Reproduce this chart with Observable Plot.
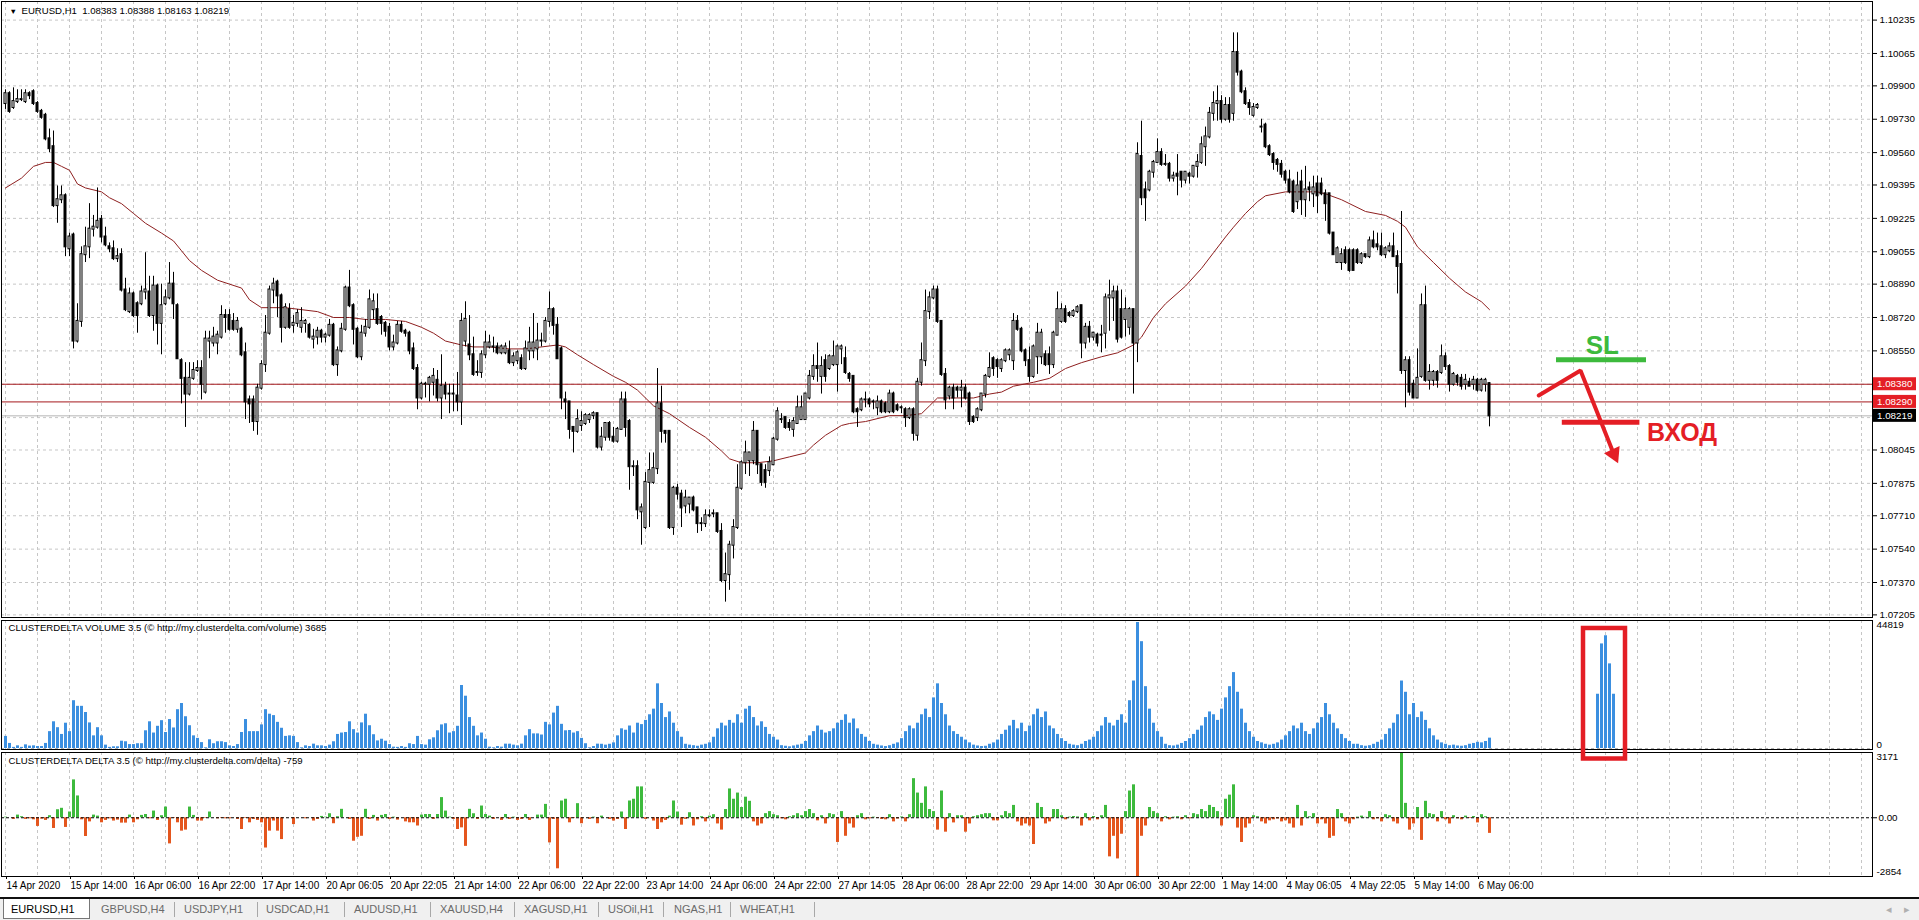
<!DOCTYPE html>
<html><head><meta charset="utf-8">
<script src="https://cdn.jsdelivr.net/npm/d3@7"></script>
<script src="https://cdn.jsdelivr.net/npm/@observablehq/plot@0.6"></script>
<style>
html,body{margin:0;padding:0;background:#fff;}
#wrap{position:relative;width:1919px;height:920px;overflow:hidden;background:#fff;font-family:"Liberation Sans",Arial,sans-serif;}
.panel{position:absolute;left:0;}
.panel svg{overflow:visible;}
#tabs{position:absolute;left:0;top:897px;width:1919px;height:23px;background:#f0f0f0;border-top:2px solid #111;box-sizing:border-box;font:11px "Liberation Sans",Arial,sans-serif;color:#6a6a6a;}
#tabs .t{position:absolute;top:4px;white-space:nowrap;}
#tabs .s{position:absolute;top:3px;width:1px;height:15px;background:#a8a8a8;}
</style></head>
<body><div id="wrap">
<div class="panel" id="price" style="top:0"></div>
<div class="panel" id="delta" style="top:750px"></div>
<div class="panel" id="vol" style="top:619px"></div>
<div id="tabs"></div>
</div>
<script>
// ---------------- DATA ----------------
const symbol = "EURUSD,H1";
const opens = [
1.0981,1.0986,1.0979,1.0982,1.0983,1.0982,1.0986,1.0987,1.0981,1.0977,
1.0975,1.0963,1.0959,1.0929,1.0932,1.0934,1.0907,1.0914,1.0860,1.0870,
1.0904,1.0908,1.0917,1.0918,1.0922,1.0913,1.0908,1.0907,1.0902,1.0904,
1.0886,1.0875,1.0884,1.0879,1.0879,1.0885,1.0885,1.0873,1.0888,1.0869,
1.0879,1.0882,1.0889,1.0878,1.0850,1.0841,1.0833,1.0841,1.0845,1.0846,
1.0834,1.0860,1.0859,1.0859,1.0862,1.0873,1.0873,1.0870,1.0866,1.0866,
1.0854,1.0830,1.0830,1.0819,1.0836,1.0848,1.0864,1.0886,1.0890,1.0883,
1.0867,1.0876,1.0868,1.0869,1.0867,1.0869,1.0868,1.0861,1.0862,1.0865,
1.0862,1.0863,1.0868,1.0848,1.0855,1.0866,1.0887,1.0878,1.0866,1.0852,
1.0864,1.0867,1.0876,1.0876,1.0872,1.0869,1.0867,1.0857,1.0859,1.0868,
1.0865,1.0864,1.0856,1.0846,1.0831,1.0838,1.0838,1.0839,1.0840,1.0831,
1.0837,1.0833,1.0833,1.0832,1.0829,1.0860,1.0858,1.0853,1.0844,1.0844,
1.0853,1.0857,1.0857,1.0857,1.0854,1.0854,1.0855,1.0849,1.0850,1.0851,
1.0846,1.0855,1.0855,1.0856,1.0860,1.0860,1.0870,1.0876,1.0868,1.0856,
1.0830,1.0829,1.0816,1.0814,1.0817,1.0818,1.0820,1.0822,1.0823,1.0806,
1.0811,1.0818,1.0811,1.0809,1.0815,1.0830,1.0819,1.0796,1.0796,1.0773,
1.0765,1.0788,1.0788,1.0795,1.0828,1.0814,1.0814,1.0765,1.0785,1.0782,
1.0776,1.0777,1.0780,1.0775,1.0767,1.0767,1.0771,1.0772,1.0772,1.0763,
1.0738,1.0741,1.0756,1.0765,1.0785,1.0798,1.0799,1.0799,1.0814,1.0797,
1.0794,1.0794,1.0797,1.0810,1.0820,1.0821,1.0818,1.0815,1.0818,1.0820,
1.0820,1.0831,1.0842,1.0847,1.0842,1.0850,1.0846,1.0848,1.0848,1.0856,
1.0851,1.0843,1.0842,1.0825,1.0825,1.0830,1.0830,1.0829,1.0826,1.0829,
1.0828,1.0824,1.0833,1.0827,1.0826,1.0825,1.0821,1.0825,1.0812,1.0839,
1.0850,1.0875,1.0882,1.0886,1.0870,1.0843,1.0832,1.0836,1.0836,1.0835,
1.0836,1.0833,1.0821,1.0821,1.0825,1.0833,1.0842,1.0851,1.0850,1.0846,
1.0850,1.0853,1.0850,1.0870,1.0866,1.0855,1.0850,1.0842,1.0852,1.0852,
1.0853,1.0853,1.0848,1.0863,1.0870,1.0876,1.0874,1.0873,1.0875,1.0878,
1.0859,1.0867,1.0862,1.0863,1.0863,1.0864,1.0882,1.0882,1.0885,1.0876,
1.0871,1.0867,1.0876,1.0859,1.0954,1.0937,1.0937,1.0946,1.0951,1.0956,
1.0950,1.0950,1.0943,1.0945,1.0946,1.0942,1.0945,1.0944,1.0949,1.0951,
1.0959,1.0964,1.0976,1.0981,1.0982,1.0973,1.0980,1.0976,1.1007,1.0997,
1.0987,1.0981,1.0975,1.0979,1.0969,1.0970,1.0959,1.0955,1.0952,1.0950,
1.0946,1.0942,1.0941,1.0931,1.0941,1.0932,1.0938,1.0935,1.0940,1.0940,
1.0935,1.0935,1.0915,1.0900,1.0900,1.0906,1.0906,1.0906,1.0906,1.0900,
1.0904,1.0903,1.0911,1.0909,1.0908,1.0904,1.0906,1.0908,1.0903,1.0899,
1.0845,1.0850,1.0838,1.0831,1.0842,1.0878,1.0840,1.0840,1.0844,1.0844,
1.0852,1.0847,1.0838,1.0842,1.0841,1.0838,1.0839,1.0838,1.0840,1.0835,
1.0838,1.08383];
const highs = [
1.0988,1.0987,1.0989,1.0988,1.0988,1.0988,1.0987,1.0988,1.0982,1.0978,
1.0976,1.0968,1.0967,1.0939,1.0939,1.0935,1.0915,1.0915,1.0879,1.0908,
1.0918,1.0930,1.0924,1.0938,1.0924,1.0918,1.0910,1.0911,1.0907,1.0907,
1.0892,1.0887,1.0885,1.0880,1.0888,1.0905,1.0893,1.0893,1.0889,1.0889,
1.0886,1.0900,1.0895,1.0879,1.0851,1.0849,1.0849,1.0849,1.0850,1.0850,
1.0865,1.0865,1.0867,1.0865,1.0878,1.0876,1.0876,1.0874,1.0872,1.0867,
1.0859,1.0832,1.0832,1.0838,1.0850,1.0873,1.0888,1.0892,1.0891,1.0884,
1.0879,1.0879,1.0873,1.0876,1.0877,1.0871,1.0869,1.0866,1.0867,1.0866,
1.0864,1.0871,1.0869,1.0857,1.0869,1.0888,1.0896,1.0879,1.0867,1.0868,
1.0871,1.0886,1.0884,1.0884,1.0873,1.0870,1.0869,1.0863,1.0870,1.0870,
1.0866,1.0865,1.0859,1.0848,1.0839,1.0839,1.0842,1.0846,1.0845,1.0853,
1.0839,1.0838,1.0838,1.0844,1.0874,1.0880,1.0873,1.0862,1.0850,1.0855,
1.0865,1.0863,1.0862,1.0859,1.0858,1.0859,1.0860,1.0854,1.0855,1.0853,
1.0860,1.0867,1.0874,1.0869,1.0864,1.0872,1.0885,1.0877,1.0872,1.0857,
1.0834,1.0829,1.0816,1.0825,1.0824,1.0823,1.0823,1.0824,1.0823,1.0816,
1.0818,1.0819,1.0816,1.0816,1.0834,1.0834,1.0820,1.0799,1.0799,1.0777,
1.0793,1.0803,1.0803,1.0846,1.0837,1.0814,1.0814,1.0786,1.0787,1.0784,
1.0784,1.0780,1.0781,1.0775,1.0770,1.0774,1.0774,1.0774,1.0772,1.0767,
1.0752,1.0758,1.0769,1.0797,1.0799,1.0809,1.0803,1.0819,1.0814,1.0797,
1.0797,1.0801,1.0811,1.0826,1.0823,1.0821,1.0820,1.0821,1.0832,1.0832,
1.0833,1.0845,1.0853,1.0859,1.0852,1.0853,1.0853,1.0860,1.0858,1.0858,
1.0857,1.0844,1.0842,1.0826,1.0831,1.0834,1.0831,1.0830,1.0832,1.0830,
1.0829,1.0835,1.0834,1.0828,1.0827,1.0826,1.0826,1.0826,1.0841,1.0859,
1.0886,1.0885,1.0888,1.0888,1.0870,1.0846,1.0837,1.0838,1.0837,1.0840,
1.0838,1.0834,1.0822,1.0826,1.0833,1.0843,1.0854,1.0852,1.0851,1.0851,
1.0856,1.0856,1.0874,1.0873,1.0867,1.0856,1.0857,1.0858,1.0869,1.0866,
1.0855,1.0857,1.0865,1.0885,1.0879,1.0878,1.0875,1.0876,1.0878,1.0878,
1.0869,1.0870,1.0864,1.0864,1.0868,1.0884,1.0891,1.0888,1.0888,1.0886,
1.0882,1.0877,1.0876,1.0961,1.0972,1.0941,1.0947,1.0952,1.0963,1.0958,
1.0955,1.0951,1.0946,1.0955,1.0946,1.0946,1.0946,1.0949,1.0955,1.0964,
1.0969,1.0979,1.0987,1.0990,1.0985,1.0984,1.0984,1.1017,1.1017,1.0998,
1.0989,1.0983,1.0981,1.0981,1.0973,1.0971,1.0960,1.0956,1.0953,1.0952,
1.0947,1.0947,1.0942,1.0946,1.0947,1.0949,1.0941,1.0944,1.0944,1.0943,
1.0937,1.0935,1.0915,1.0908,1.0907,1.0908,1.0907,1.0907,1.0907,1.0905,
1.0904,1.0913,1.0916,1.0915,1.0915,1.0908,1.0910,1.0915,1.0906,1.0926,
1.0852,1.0852,1.0840,1.0856,1.0884,1.0888,1.0848,1.0845,1.0845,1.0858,
1.0854,1.0848,1.0844,1.0843,1.0843,1.0843,1.0841,1.0842,1.0841,1.0841,
1.0841,1.08388];
const lows = [
1.0978,1.0976,1.0978,1.0981,1.0982,1.0981,1.0983,1.0980,1.0976,1.0973,
1.0962,1.0956,1.0928,1.0920,1.0930,1.0903,1.0903,1.0856,1.0859,1.0867,
1.0900,1.0902,1.0913,1.0917,1.0910,1.0908,1.0905,1.0901,1.0900,1.0885,
1.0875,1.0874,1.0872,1.0864,1.0878,1.0881,1.0872,1.0865,1.0858,1.0853,
1.0878,1.0881,1.0871,1.0851,1.0828,1.0816,1.0832,1.0840,1.0844,1.0830,
1.0833,1.0851,1.0857,1.0853,1.0861,1.0864,1.0865,1.0865,1.0864,1.0852,
1.0820,1.0818,1.0814,1.0812,1.0835,1.0844,1.0863,1.0879,1.0872,1.0859,
1.0866,1.0866,1.0864,1.0867,1.0864,1.0864,1.0861,1.0856,1.0858,1.0859,
1.0859,1.0862,1.0847,1.0842,1.0854,1.0865,1.0877,1.0858,1.0851,1.0850,
1.0862,1.0866,1.0871,1.0868,1.0863,1.0862,1.0855,1.0855,1.0858,1.0864,
1.0862,1.0853,1.0845,1.0825,1.0830,1.0831,1.0829,1.0832,1.0829,1.0820,
1.0830,1.0823,1.0824,1.0824,1.0817,1.0857,1.0850,1.0842,1.0842,1.0841,
1.0851,1.0856,1.0854,1.0853,1.0853,1.0853,1.0848,1.0847,1.0848,1.0845,
1.0845,1.0850,1.0851,1.0850,1.0857,1.0859,1.0867,1.0863,1.0851,1.0825,
1.0820,1.0810,1.0803,1.0813,1.0814,1.0817,1.0818,1.0820,1.0805,1.0804,
1.0809,1.0809,1.0808,1.0808,1.0815,1.0811,1.0784,1.0791,1.0769,1.0756,
1.0764,1.0765,1.0787,1.0792,1.0808,1.0808,1.0764,1.0761,1.0779,1.0765,
1.0772,1.0772,1.0773,1.0762,1.0763,1.0765,1.0770,1.0770,1.0762,1.0737,
1.0727,1.0733,1.0749,1.0764,1.0784,1.0792,1.0791,1.0797,1.0792,1.0786,
1.0785,1.0791,1.0797,1.0809,1.0818,1.0815,1.0814,1.0811,1.0818,1.0820,
1.0820,1.0830,1.0840,1.0839,1.0833,1.0839,1.0845,1.0847,1.0834,1.0848,
1.0843,1.0839,1.0823,1.0816,1.0824,1.0826,1.0826,1.0825,1.0822,1.0823,
1.0823,1.0823,1.0823,1.0824,1.0823,1.0816,1.0820,1.0809,1.0809,1.0837,
1.0847,1.0871,1.0881,1.0869,1.0842,1.0825,1.0830,1.0825,1.0831,1.0826,
1.0830,1.0817,1.0818,1.0819,1.0824,1.0831,1.0841,1.0842,1.0841,1.0844,
1.0849,1.0850,1.0845,1.0865,1.0854,1.0847,1.0839,1.0841,1.0843,1.0848,
1.0847,1.0843,1.0846,1.0863,1.0869,1.0869,1.0872,1.0872,1.0874,1.0851,
1.0856,1.0859,1.0860,1.0857,1.0854,1.0856,1.0865,1.0870,1.0859,1.0861,
1.0862,1.0863,1.0833,1.0849,1.0929,1.0921,1.0936,1.0943,1.0951,1.0949,
1.0949,1.0941,1.0941,1.0934,1.0938,1.0940,1.0940,1.0943,1.0943,1.0950,
1.0949,1.0963,1.0972,1.0972,1.0971,1.0972,1.0971,1.0972,1.0995,1.0986,
1.0980,1.0975,1.0974,1.0978,1.0966,1.0958,1.0954,1.0947,1.0946,1.0943,
1.0940,1.0935,1.0925,1.0927,1.0924,1.0923,1.0931,1.0928,1.0925,1.0934,
1.0921,1.0914,1.0904,1.0900,1.0896,1.0899,1.0895,1.0896,1.0899,1.0899,
1.0902,1.0902,1.0907,1.0906,1.0903,1.0902,1.0905,1.0903,1.0884,1.0843,
1.0826,1.0832,1.0831,1.0831,1.0841,1.0839,1.0835,1.0837,1.0836,1.0843,
1.0845,1.0834,1.0837,1.0837,1.0835,1.0835,1.0837,1.0835,1.0834,1.0834,
1.0834,1.08163];
const closes = [
1.0986,1.0977,1.0982,1.0983,1.0983,1.0986,1.0985,1.0981,1.0977,1.0974,
1.0963,1.0958,1.0929,1.0932,1.0934,1.0908,1.0913,1.0860,1.0870,1.0904,
1.0908,1.0917,1.0918,1.0921,1.0913,1.0909,1.0907,1.0902,1.0903,1.0886,
1.0876,1.0884,1.0873,1.0873,1.0885,1.0886,1.0873,1.0888,1.0869,1.0878,
1.0882,1.0889,1.0879,1.0851,1.0841,1.0833,1.0841,1.0845,1.0846,1.0838,
1.0861,1.0861,1.0862,1.0863,1.0873,1.0872,1.0866,1.0866,1.0870,1.0853,
1.0829,1.0828,1.0819,1.0836,1.0848,1.0864,1.0886,1.0889,1.0883,1.0867,
1.0877,1.0867,1.0869,1.0874,1.0870,1.0870,1.0862,1.0862,1.0865,1.0862,
1.0863,1.0868,1.0848,1.0855,1.0866,1.0887,1.0878,1.0866,1.0852,1.0864,
1.0867,1.0881,1.0880,1.0869,1.0869,1.0865,1.0857,1.0859,1.0868,1.0865,
1.0864,1.0855,1.0846,1.0831,1.0838,1.0838,1.0841,1.0842,1.0831,1.0837,
1.0833,1.0833,1.0833,1.0829,1.0870,1.0871,1.0853,1.0843,1.0844,1.0853,
1.0859,1.0859,1.0857,1.0854,1.0857,1.0857,1.0849,1.0852,1.0854,1.0846,
1.0856,1.0859,1.0859,1.0860,1.0860,1.0870,1.0876,1.0868,1.0851,1.0831,
1.0829,1.0815,1.0814,1.0820,1.0819,1.0822,1.0822,1.0823,1.0806,1.0811,
1.0818,1.0811,1.0809,1.0815,1.0830,1.0816,1.0796,1.0796,1.0774,1.0775,
1.0788,1.0794,1.0795,1.0828,1.0814,1.0813,1.0765,1.0785,1.0782,1.0775,
1.0780,1.0780,1.0774,1.0767,1.0767,1.0771,1.0771,1.0772,1.0763,1.0738,
1.0741,1.0756,1.0765,1.0785,1.0798,1.0803,1.0803,1.0814,1.0797,1.0788,
1.0788,1.0798,1.0810,1.0824,1.0820,1.0816,1.0816,1.0819,1.0826,1.0826,
1.0833,1.0842,1.0847,1.0846,1.0847,1.0842,1.0852,1.0852,1.0857,1.0857,
1.0844,1.0841,1.0824,1.0824,1.0830,1.0830,1.0828,1.0829,1.0829,1.0824,
1.0824,1.0833,1.0824,1.0825,1.0826,1.0821,1.0825,1.0813,1.0839,1.0850,
1.0875,1.0882,1.0886,1.0870,1.0843,1.0830,1.0836,1.0831,1.0835,1.0836,
1.0831,1.0819,1.0819,1.0825,1.0833,1.0842,1.0846,1.0846,1.0847,1.0850,
1.0855,1.0855,1.0870,1.0866,1.0855,1.0850,1.0842,1.0857,1.0864,1.0864,
1.0848,1.0848,1.0864,1.0876,1.0876,1.0870,1.0873,1.0875,1.0877,1.0859,
1.0867,1.0862,1.0864,1.0859,1.0863,1.0882,1.0883,1.0885,1.0861,1.0862,
1.0876,1.0876,1.0859,1.0955,1.0933,1.0933,1.0946,1.0951,1.0956,1.0950,
1.0950,1.0943,1.0944,1.0944,1.0942,1.0946,1.0944,1.0949,1.0951,1.0960,
1.0964,1.0976,1.0981,1.0982,1.0973,1.0980,1.0973,1.1007,1.0997,1.0987,
1.0981,1.0979,1.0979,1.0980,1.0969,1.0959,1.0955,1.0951,1.0950,1.0945,
1.0942,1.0936,1.0926,1.0939,1.0932,1.0937,1.0937,1.0938,1.0934,1.0935,
1.0930,1.0915,1.0904,1.0907,1.0904,1.0900,1.0896,1.0896,1.0900,1.0904,
1.0903,1.0911,1.0908,1.0908,1.0904,1.0907,1.0908,1.0903,1.0898,1.0845,
1.0850,1.0834,1.0831,1.0841,1.0878,1.0840,1.0844,1.0844,1.0840,1.0852,
1.0847,1.0838,1.0843,1.0839,1.0837,1.0840,1.0837,1.0840,1.0835,1.0840,
1.0840,1.08219];
// moving average (read at sample bars)
const maBars = [0,4,7,10,12,14,16,18,20,24,26,29,32,35,39,42,44,46,49,53,56,59,61,64,66,70,74,78,82,86,90,95,100,104,107,110,114,117,121,126,130,134,138,140,143,147,152,155,158,162,166,171,175,179,181,184,188,192,196,200,202,205,209,211,215,221,225,229,231,233,238,242,246,249,252,257,261,265,269,274,278,282,284,287,290,295,299,302,305,307,310,313,315,320,324,328,330,334,340,345,348,350,353,357,361,365,369,371];
const maValues = [1.0938,1.0943,1.0949,1.0951,1.0951,1.0949,1.0947,1.0940,1.0938,1.0936,1.0933,1.0930,1.0925,1.0920,1.0915,1.0911,1.0906,1.0901,1.0896,1.0891,1.0889,1.0887,1.0881,1.0877,1.0877,1.0877,1.0876,1.0875,1.0872,1.0872,1.0871,1.0871,1.0870,1.0867,1.0864,1.0860,1.0858,1.0857,1.0857,1.0856,1.0856,1.0857,1.0858,1.0857,1.0853,1.0848,1.0842,1.0839,1.0835,1.0827,1.0823,1.0816,1.0811,1.0804,1.0800,1.0798,1.0798,1.0799,1.0801,1.0803,1.0807,1.0812,1.0817,1.0818,1.0819,1.0822,1.0822,1.0823,1.0827,1.0831,1.0831,1.0831,1.0833,1.0834,1.0837,1.0839,1.0841,1.0846,1.0849,1.0852,1.0854,1.0858,1.0862,1.0872,1.0879,1.0888,1.0897,1.0905,1.0913,1.0918,1.0925,1.0931,1.0934,1.0936,1.0936,1.0936,1.0935,1.0932,1.0926,1.0924,1.0921,1.0918,1.0908,1.0900,1.0892,1.0885,1.0880,1.0876];
const volumes = [
4300,1800,400,950,400,1300,850,950,700,700,
1800,6000,9500,7400,5000,9000,6000,17000,15000,15000,
12800,9100,4500,7400,4500,1200,400,600,600,2600,
2400,1400,1400,1700,1700,6300,9500,5500,7900,9900,
5700,10300,7300,13800,16000,11300,8100,4500,3600,2100,
250,3100,1700,2400,2400,2100,950,700,1400,5700,
10300,6000,6000,6000,8400,13800,12200,11700,9300,7200,
4300,4500,4300,2100,250,950,700,1550,950,950,
700,1200,2400,5000,5500,5700,9500,6700,5500,9100,
12200,8100,4900,2700,3300,2600,1400,480,400,700,
400,1700,1400,4300,1400,1200,3100,3800,6300,8400,
8800,5500,6000,7900,22400,18600,11000,7900,4500,5500,
3300,480,250,700,480,1550,1550,1200,950,1550,
4500,6700,5200,5200,4800,9300,8400,12600,15000,8600,
6300,6400,5500,6000,3600,1700,250,700,1550,
1500,1200,1500,2000,4500,7000,6500,8000,5500,9000,8500,10000,12000,14000,23000,16000,11000,13000,9000,6000,4000,
1500,1200,1000,800,1200,1500,2000,4000,7000,9000,8000,10000,9000,12000,9000,14000,15000,11000,8000,9500,7500,5000,4000,3000,
1000,800,600,900,1200,1500,2500,4500,6000,8000,6500,5500,6000,7000,9000,10000,12000,9000,10500,7000,5000,4000,2500,1500,
1200,900,700,1000,1500,2000,3500,6000,8000,7000,9000,12000,14000,11000,18000,23000,16000,12000,8000,6000,5000,4000,3000,2000,
1200,900,700,800,1500,2000,3000,5000,6500,8000,10000,7000,9000,6000,8000,12000,14000,11000,13000,8000,7000,5000,3500,2500,
1500,1200,1000,1500,2500,3000,4000,6000,8000,11000,9000,8000,10000,12000,9000,17000,24000,44819,38000,22000,14000,9000,6000,4000,
1500,1000,900,1200,1800,2500,3500,5000,6500,8000,11000,13000,12000,10000,14000,18000,22000,27000,20000,14000,9000,6000,4000,2500,
2000,1500,1200,1500,2000,3000,4500,6000,8000,7000,9000,6000,5000,7000,9000,11000,16000,12000,9000,7000,5000,3500,2500,1500,
1500,1000,800,1000,1500,2200,3000,5000,7000,9000,12000,24000,20000,12000,16000,11000,13000,10000,7000,4500,3000,2000,1500,1000,
1200,900,800,1000,1500,1800,2200,2000,2500,3685];
const deltas = [
30,0,-80,130,50,-80,-50,-100,-420,-65,
-130,100,-520,390,460,-470,280,1840,1060,-100,
-910,-200,130,80,-245,-130,-50,-160,-115,-260,
-260,130,-245,-100,115,160,-50,325,-130,100,
520,-1270,-30,-245,-650,-600,520,115,-160,-160,
-30,280,0,-50,-30,-50,-50,0,-80,-570,
-30,-245,-80,-130,-245,-1470,-650,-160,-650,-1060,
0,0,-330,0,0,-50,0,-160,-80,65,
30,195,-290,50,410,0,-80,-1140,-950,-900,
410,-80,115,-160,115,160,-80,30,-115,0,
-200,-245,-245,-400,130,160,160,-80,160,980,
325,30,-80,-570,-490,-1390,410,195,-80,570,
160,80,-80,0,-130,160,-80,30,-130,-80,
160,-130,0,130,130,650,-1220,-80,-2480,815,
900,-245,-30,685,-290,0,-80,30,-290,80,
0,-80,-160,-80,280,-570,815,900,1500,1500,
-80,0,-160,-570,-245,-130,80,815,280,-360,-80,245,-400,
-100,50,-200,80,150,-300,-600,400,1400,900,1200,500,1000,800,-200,-400,-300,200,300,150,100,
-50,-100,50,100,200,100,300,400,200,-150,100,-300,200,150,-1200,300,-900,-300,-500,100,200,-100,-50,30,
-30,-80,-100,150,-200,-60,40,-200,150,1900,1200,700,1500,400,300,-600,1300,-700,200,-250,100,100,-700,-300,
50,100,150,200,200,-150,-150,100,300,200,600,-200,-400,-300,-400,-1300,700,500,-300,-200,400,400,100,-100,
30,60,40,-400,200,-150,60,-100,100,600,-1900,-900,-2000,-800,300,1300,1600,-2854,-900,-400,500,300,200,-200,
50,-100,30,50,-100,100,-50,200,150,400,300,600,500,300,-400,900,1100,1600,-500,-1200,-500,-300,100,50,
-200,-300,-150,-100,-60,-200,-150,-300,-500,600,-400,300,50,200,-300,-100,-300,-1000,-900,400,200,-200,-300,-100,
30,80,20,300,-100,-50,-200,150,100,-200,-300,3171,700,-600,-300,500,-1100,800,200,150,-200,300,-100,-300,
100,-50,-100,80,-30,60,-250,150,50,-759];
const priceTicks = [1.10235,1.10065,1.09900,1.09730,1.09560,1.09395,1.09225,1.09055,1.08890,1.08720,1.08550,1.08045,1.07875,1.07710,1.07540,1.07370,1.07205];
const hiddenGridLevels = [1.08380,1.08210];
const levelLines = [1.08380,1.08290];
const timeBars = [0,16,32,48,64,80,96,112,128,144,160,176,192,208,224,240,256,272,288,304,320,336,352,368];
const timeLabels = ["14 Apr 2020","15 Apr 14:00","16 Apr 06:00","16 Apr 22:00","17 Apr 14:00","20 Apr 06:05","20 Apr 22:05","21 Apr 14:00","22 Apr 06:00","22 Apr 22:00","23 Apr 14:00","24 Apr 06:00","24 Apr 22:00","27 Apr 14:05","28 Apr 06:00","28 Apr 22:00","29 Apr 14:00","30 Apr 06:00","30 Apr 22:00","1 May 14:00","4 May 06:05","4 May 22:05","5 May 14:00","6 May 06:00"];
// hand-drawn annotations (chart units: bar index, price / volume)
const slLine = [{x1:387.75, x2:410.25, y:1.08505}];
const slLabel = [{x:399.2, y:1.08579, text:"SL"}];
const entryLine = [{x1:389.2, x2:408.6, y:1.08187}];
const entryLabel = [{x:410.4, y:1.08134, text:"ВХОД"}];
const arrowPath = [{x:383.3, y:1.08323},{x:393.75, y:1.08450},{x:401.7, y:1.08044}];
const arrowTip = [{x:402.1, y:1.08024}];
const boxBars = [398,399,400,401,402];
const boxVolumes = [19300,37200,40100,30100,19300];
const boxRect = [{x1:394.5, x2:405, y1:-3735, y2:42690}];
const tabNames = ["EURUSD,H1","GBPUSD,H4","USDJPY,H1","USDCAD,H1","AUDUSD,H1","XAUUSD,H4","XAGUSD,H1","USOil,H1","NGAS,H1","WHEAT,H1"];

// ---------------- CHARTS ----------------
const FONT = '"Liberation Sans", Arial, sans-serif';
const GRID = "#c6c6c6";
const RED = "#e41e25";
const GREEN = "#3dba3d";
const BLUE = "#3b8fe0";
const xDom = [-1, 466.75];
const gridBars = d3.range(0, 465, 8);
const n = opens.length;
const candles = opens.map((o, i) => ({i, o, h: highs[i], l: lows[i], c: closes[i]}));
const maData = maBars.map((b, k) => ({b, v: maValues[k]}));
const fmt5 = d => d.toFixed(5);
const priceTitle = `${symbol}  ${fmt5(opens[n-1])} ${fmt5(highs[n-1])} ${fmt5(lows[n-1])} ${fmt5(closes[n-1])}`;

const price = Plot.plot({
  width: 1919, height: 619,
  marginLeft: 1, marginRight: 47, marginTop: 1, marginBottom: 2,
  x: {type: "linear", domain: xDom, axis: null},
  y: {type: "linear", domain: [1.071917, 1.103298], axis: null},
  style: {background: "transparent", fontFamily: FONT, fontSize: "9.5px", color: "#000", overflow: "visible"},
  marks: [
    Plot.gridX(gridBars, {stroke: GRID, strokeOpacity: 1, strokeDasharray: "3,3"}),
    Plot.gridY(priceTicks.concat(hiddenGridLevels), {stroke: GRID, strokeOpacity: 1, strokeDasharray: "3,3"}),
    Plot.ruleY([closes[n-1]], {stroke: "#b4b4b4"}),
    Plot.ruleY(levelLines, {stroke: "#a5181c"}),
    Plot.line(maData, {x: "b", y: "v", stroke: "#8e1f1f", strokeWidth: 1}),
    Plot.ruleX(candles, {x: "i", y1: "l", y2: "h", stroke: "#000"}),
    Plot.rect(candles, {x1: d => d.i - 0.25, x2: d => d.i + 0.25, y1: "o", y2: "c",
      fill: d => d.c >= d.o ? "#fff" : "#000", stroke: "#000", strokeWidth: 1, insetTop: -0.5, insetBottom: -0.5}),
    Plot.ruleY(slLine, {x1: "x1", x2: "x2", y: "y", stroke: GREEN, strokeWidth: 5}),
    Plot.text(slLabel, {x: "x", y: "y", text: "text", fill: GREEN, fontSize: 26, fontWeight: "bold"}),
    Plot.line(arrowPath, {x: "x", y: "y", stroke: RED, strokeWidth: 4, strokeLinejoin: "miter"}),
    Plot.dot(arrowTip, {x: "x", y: "y", symbol: "triangle", r: 6.4, fill: RED, rotate: 155}),
    Plot.ruleY(entryLine, {x1: "x1", x2: "x2", y: "y", stroke: RED, strokeWidth: 5}),
    Plot.text(entryLabel, {x: "x", y: "y", text: "text", fill: RED, fontSize: 25, fontWeight: "bold", textAnchor: "start"}),
    Plot.axisY(priceTicks, {anchor: "right", tickSize: 4, tickPadding: 3, tickFormat: fmt5, label: null, fontSize: 9.8}),
    Plot.axisY(levelLines.concat([closes[n-1]]), {anchor: "right", tickSize: 4, tickFormat: () => "", label: null}),
    Plot.frame({stroke: "#000"}),
    Plot.text(["▼"], {frameAnchor: "top-left", dx: 8, dy: 7, fontSize: 7.5, lineAnchor: "top", textAnchor: "start"}),
    Plot.text([priceTitle], {frameAnchor: "top-left", dx: 20, dy: 6, fontSize: 9.6, lineAnchor: "top", textAnchor: "start"})
  ]
});
document.getElementById("price").append(price);

// price tags on the right axis
(function () {
  const ys = price.scale("y"), xr = price.scale("x").range[1];
  const g = d3.select(price).append("g").attr("font-family", FONT).attr("font-size", 9.8).attr("text-anchor", "start");
  const tags = levelLines.map(v => ({v, bg: RED})).concat([{v: closes[n-1], bg: "#000"}]);
  for (const t of tags) {
    const y = ys.apply(t.v);
    g.append("rect").attr("x", xr + 1).attr("y", y - 6.5).attr("width", 43).attr("height", 13).attr("fill", t.bg);
    g.append("text").attr("x", xr + 5).attr("y", y).attr("dy", "0.35em").attr("text-anchor", "start").attr("fill", "#fff").text(fmt5(t.v));
  }
})();

const volMax = d3.max(volumes);
const volData = volumes.map((v, i) => ({i, v}));
const boxData = boxBars.map((b, k) => ({i: b, v: boxVolumes[k]}));
const vol = Plot.plot({
  width: 1919, height: 131,
  marginLeft: 1, marginRight: 47, marginTop: 1, marginBottom: 1,
  x: {type: "linear", domain: xDom, axis: null},
  y: {type: "linear", domain: [0, volMax], range: [129, 3], axis: null},
  style: {background: "transparent", fontFamily: FONT, fontSize: "9.5px", color: "#000", overflow: "visible"},
  marks: [
    Plot.gridX(gridBars, {stroke: GRID, strokeOpacity: 1, strokeDasharray: "3,3"}),
    Plot.ruleY([0], {stroke: "#b4b4b4", strokeDasharray: "3,3"}),
    Plot.ruleX(volData, {x: "i", y1: 0, y2: "v", stroke: BLUE, strokeWidth: 3}),
    Plot.ruleX(boxData, {x: "i", y1: 0, y2: "v", stroke: BLUE, strokeWidth: 3}),
    Plot.frame({stroke: "#000"}),
    Plot.rect(boxRect, {x1: "x1", x2: "x2", y1: "y1", y2: "y2", fill: "none", stroke: RED, strokeWidth: 4.5}),
    Plot.text([`CLUSTERDELTA VOLUME 3.5 (© http://my.clusterdelta.com/volume) ${volumes[n-1]}`],
      {frameAnchor: "top-left", dx: 7, dy: 4, fontSize: 9.6, lineAnchor: "top", textAnchor: "start"}),
    Plot.text([volMax], {y: d => d, text: d => String(d), frameAnchor: "right", dx: 4, textAnchor: "start", lineAnchor: "top", dy: -1, fontSize: 9.8}),
    Plot.text([0], {y: d => d, text: d => String(d), frameAnchor: "right", dx: 4, textAnchor: "start", lineAnchor: "bottom", dy: -1, fontSize: 9.8})
  ]
});
document.getElementById("vol").append(vol);

const dMax = d3.max(deltas), dMin = d3.min(deltas);
const deltaData = deltas.map((v, i) => ({i, v}));
const delta = Plot.plot({
  width: 1919, height: 148,
  marginLeft: 1, marginRight: 47, marginTop: 2, marginBottom: 22,
  x: {type: "linear", domain: xDom, axis: null},
  y: {type: "linear", domain: [dMin, dMax], axis: null},
  style: {background: "transparent", fontFamily: FONT, fontSize: "10px", color: "#000", overflow: "visible"},
  marks: [
    Plot.gridX(gridBars, {stroke: GRID, strokeOpacity: 1, strokeDasharray: "3,3"}),
    Plot.ruleX(deltaData, {x: "i", y1: 0, y2: "v", stroke: d => d.v >= 0 ? GREEN : "#e4561e", strokeWidth: 3}),
    Plot.ruleY([0], {stroke: "#000", strokeDasharray: "3,2"}),
    Plot.frame({stroke: "#000"}),
    Plot.text([`CLUSTERDELTA DELTA 3.5 (© http://my.clusterdelta.com/delta) ${deltas[n-1]}`],
      {frameAnchor: "top-left", dx: 7, dy: 5, fontSize: 9.6, lineAnchor: "top", textAnchor: "start"}),
    Plot.axisY([0], {anchor: "right", tickSize: 4, tickPadding: 2, tickFormat: d => d.toFixed(2), label: null, fontSize: 9.8}),
    Plot.text([dMax], {y: d => d, text: d => String(d), frameAnchor: "right", dx: 4, textAnchor: "start", lineAnchor: "top", dy: 1, fontSize: 9.8}),
    Plot.text([dMin], {y: d => d, text: d => String(d), frameAnchor: "right", dx: 4, textAnchor: "start", lineAnchor: "bottom", dy: -2, fontSize: 9.8}),
    Plot.axisX(timeBars, {anchor: "bottom", tickSize: 3, tickPadding: 2, textAnchor: "start", dx: 1,
      tickFormat: d => timeLabels[timeBars.indexOf(d)], label: null, fontSize: 10})
  ]
});
document.getElementById("delta").append(delta);

// tab bar
(function () {
  const tabX = [11, 101, 184, 266, 354, 440, 524, 608, 674, 740];
  const sepX = [174, 257, 344, 430, 514, 598, 663, 730, 814];
  const tabs = d3.select("#tabs");
  tabs.append("div").style("position", "absolute").style("left", "3px").style("top", "0px")
    .style("width", "87px").style("height", "20px").style("background", "#fff")
    .style("border-left", "1px solid #777").style("border-right", "1px solid #777").style("border-bottom", "1px solid #777")
    .style("box-sizing", "border-box");
  tabNames.forEach((t, k) => {
    tabs.append("span").attr("class", "t").style("left", tabX[k] + "px").style("color", k === 0 ? "#000" : "#6a6a6a").text(t);
  });
  sepX.forEach(x => tabs.append("div").attr("class", "s").style("left", x + "px"));
  tabs.append("span").attr("class", "t").style("left", "1886px").style("color", "#b0b0b0").text("◂");
  tabs.append("span").attr("class", "t").style("left", "1904px").style("color", "#b0b0b0").text("▸");
})();
</script>
</body></html>
